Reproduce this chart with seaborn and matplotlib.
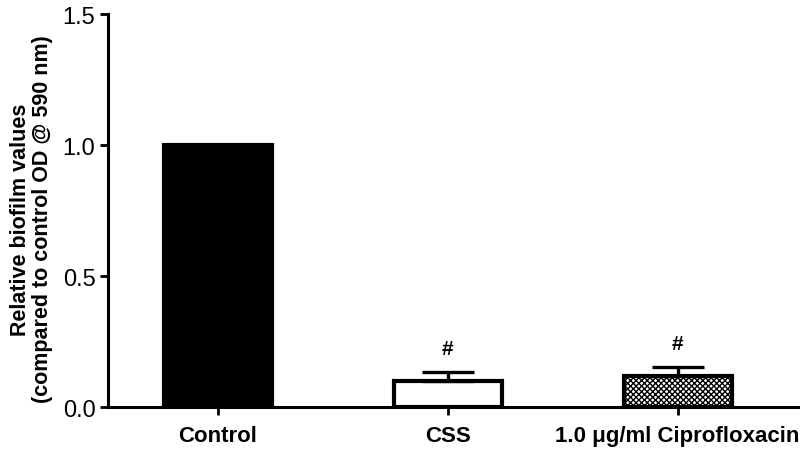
import numpy as np
import seaborn as sns
import matplotlib.pyplot as plt

# values
groups = ["Control", "CSS", "1.0 \u03bcg/ml Ciprofloxacin"]
means = [1.0, 0.10, 0.118]
sem = [0.0, 0.035, 0.035]
marks = ["", "#", "#"]

sns.set_style("ticks", {"axes.edgecolor": "black", "xtick.color": "black",
                        "ytick.color": "black", "text.color": "black",
                        "axes.labelcolor": "black"})
plt.rcParams['font.family'] = ['Liberation Sans', 'DejaVu Sans']

fig = plt.figure(figsize=(8, 4.6), dpi=100)
ax = fig.add_axes([0.135, 0.113, 0.87, 0.854])

sns.barplot(x=groups, y=means, hue=groups, palette=["black", "white", "white"],
            width=0.47, edgecolor="black", linewidth=3, legend=False, ax=ax,
            errorbar=None)

# checkered fill for the ciprofloxacin bar
plt.rcParams['hatch.linewidth'] = 0.8
ax.patches[2].set_hatch("xxxxxx")

# upward-only error bars (SEM)
x = np.arange(len(groups))
for i in range(1, len(groups)):
    ax.errorbar(x[i], means[i], yerr=[[0], [sem[i]]], color="black",
                capsize=19, capthick=2.4, elinewidth=2.4, zorder=1)
    ax.text(x[i], means[i] + sem[i] + 0.09, marks[i], ha="center", va="center",
            fontsize=15, fontweight="bold")

ax.set_xlim(-0.477, 2.55)
ax.set_ylim(0, 1.5)
ax.set_yticks([0.0, 0.5, 1.0, 1.5])
ax.set_yticklabels(["0.0", "0.5", "1.0", "1.5"])
ax.set_ylabel("Relative biofilm values\n(compared to control OD @ 590 nm)",
              fontsize=15.5, fontweight="bold", labelpad=7, linespacing=1.05,
              y=0.48)
ax.tick_params(axis="y", labelsize=17, width=2, length=6, direction="out", pad=3)
ax.tick_params(axis="x", labelsize=16, width=2, length=6, direction="out", pad=7)
for lab in ax.get_xticklabels():
    lab.set_fontweight("bold")

for s in ["left", "bottom"]:
    ax.spines[s].set_linewidth(2.2)
sns.despine(ax=ax)

fig.savefig("out.png", dpi=100)
